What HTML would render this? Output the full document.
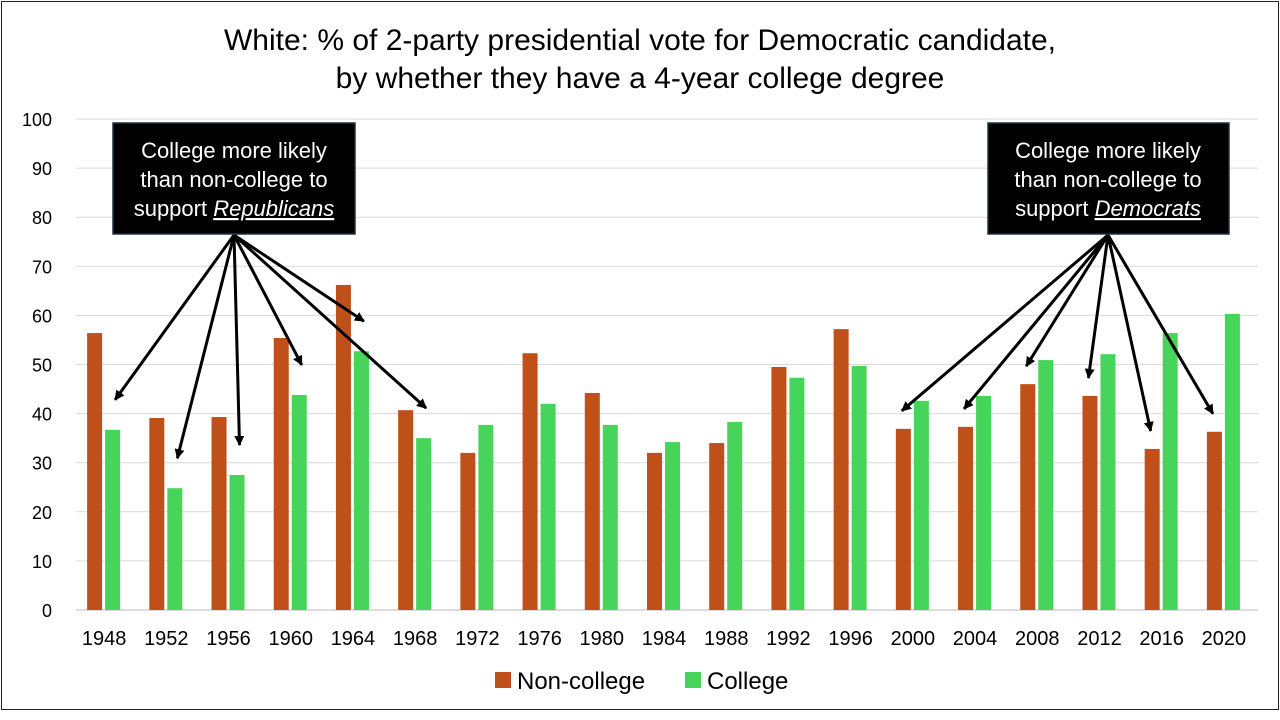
<!DOCTYPE html>
<html><head><meta charset="utf-8"><style>
body{margin:0;background:#fff;}
svg{display:block;font-family:"Liberation Sans",sans-serif;}
</style></head><body>
<svg id="chart" width="1280" height="720">
<rect x="1.5" y="1.5" width="1277" height="708" fill="#fff" stroke="#222" stroke-width="1"/>
<text x="640" y="50" text-anchor="middle" font-size="30" fill="#000">White: % of 2-party presidential vote for Democratic candidate,</text>
<text x="640" y="88" text-anchor="middle" font-size="30" fill="#000">by whether they have a 4-year college degree</text>
<g id="grid"></g><g id="bars"></g><g id="xlabels"></g><g id="arrows"></g>
<g>
<rect x="113" y="123" width="242" height="111" fill="#000" stroke="#1f3340" stroke-width="1.5"/>
<text x="234" y="158" text-anchor="middle" font-size="22" fill="#fff">College more likely</text>
<text x="234" y="187" text-anchor="middle" font-size="22" fill="#fff">than non-college to</text>
<text x="234" y="216" text-anchor="middle" font-size="22" fill="#fff">support <tspan font-style="italic" text-decoration="underline">Republicans</tspan></text>
</g>
<g>
<rect x="988" y="123" width="241" height="111" fill="#000" stroke="#1f3340" stroke-width="1.5"/>
<text x="1108" y="158" text-anchor="middle" font-size="22" fill="#fff">College more likely</text>
<text x="1108" y="187" text-anchor="middle" font-size="22" fill="#fff">than non-college to</text>
<text x="1108" y="216" text-anchor="middle" font-size="22" fill="#fff">support <tspan font-style="italic" text-decoration="underline">Democrats</tspan></text>
</g>
<g>
<rect x="495" y="672" width="16" height="16" fill="#c0501a"/>
<text x="517" y="689" font-size="24">Non-college</text>
<rect x="685" y="672" width="16" height="16" fill="#47d45a"/>
<text x="707" y="689" font-size="24">College</text>
</g>
</svg>
<script>
const years=["1948","1952","1956","1960","1964","1968","1972","1976","1980","1984","1988","1992","1996","2000","2004","2008","2012","2016","2020"];
const nonCollege=[56.4,39.1,39.3,55.4,66.2,40.7,32,52.3,44.2,32,34,49.5,57.2,36.9,37.3,46,43.6,32.8,36.3];
const college=[36.7,24.8,27.5,43.8,52.7,35,37.7,42,37.7,34.2,38.3,47.3,49.7,42.6,43.6,50.9,52.1,56.4,60.3];
const yTicks=[0,10,20,30,40,50,60,70,80,90,100];
const repIdx=[0,1,2,3,4,5];
const demIdx=[13,14,15,16,17,18];
const NS="http://www.w3.org/2000/svg";
const x0=76,x1=1258,yb=610,yt=119;
const step=(x1-x0)/years.length;
const Y=v=>yb-(v/100)*(yb-yt);
const X=i=>x0+step*(i+0.5);
function mk(t,a,p){const e=document.createElementNS(NS,t);for(const k in a)e.setAttribute(k,a[k]);p.appendChild(e);return e;}
const g=document.getElementById('grid');
yTicks.forEach(t=>{
 const l=mk('line',{x1:x0,x2:x1,y1:Y(t),y2:Y(t),stroke:t===0?'#bbb':'#d9d9d9','stroke-width':1},g);
 
 
 const tx=mk('text',{x:52,y:Y(t)+7,'text-anchor':'end','font-size':18},g);tx.textContent=t;
 
 
});
const b=document.getElementById('bars'),xl=document.getElementById('xlabels');
years.forEach((yr,i)=>{
 const c=X(i);
 const r1=mk('rect',{x:c-20,y:Y(nonCollege[i]),width:15,height:yb-Y(nonCollege[i]),fill:'#c0501a'},b);
 
 
 const r2=mk('rect',{x:c-2,y:Y(college[i]),width:15,height:yb-Y(college[i]),fill:'#47d45a'},b);
 
 
 const t=mk('text',{x:c-3,y:645,'text-anchor':'middle','font-size':20},xl);t.textContent=yr;
 
 
});
const a=document.getElementById('arrows');
const defs=mk('defs',{},a);
const m=mk('marker',{id:'ah',markerWidth:10,markerHeight:10,refX:9,refY:5,orient:'auto',markerUnits:'userSpaceOnUse'},defs);
mk('path',{d:'M0,0 L10,5 L0,10 z',fill:'#000'},m);
function arrow(sx,sy,tx,ty,name){
 const l=mk('line',{x1:sx,y1:sy,x2:tx,y2:ty,stroke:'#000','stroke-width':3,'marker-end':'url(#ah)'},a);
 
 
}
repIdx.forEach(i=>arrow(234,235,X(i)+8,Y(college[i])-30,'arrow-rep-'+years[i]));
demIdx.forEach(i=>arrow(1108,235,X(i)-14,Y(nonCollege[i])-18,'arrow-dem-'+years[i]));
</script>
</body></html>
